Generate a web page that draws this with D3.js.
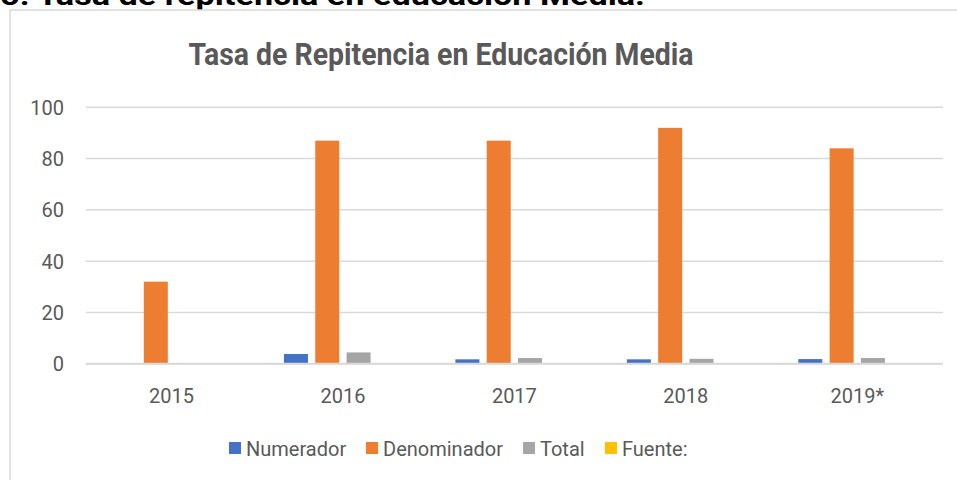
<!DOCTYPE html>
<html>
<head>
<meta charset="utf-8">
<script src="https://cdn.jsdelivr.net/npm/d3@7"></script>
<style>
  body { margin: 0; background: #fff; }
  text { font-family: Roboto, "Open Sans", sans-serif; }
</style>
</head>
<body>
<div class="canvas"></div>
<script>
// data
var years = ["2015", "2016", "2017", "2018", "2019*"];
var numerador = [0, 3.8, 1.7, 1.7, 1.8];
var denominador = [32, 87, 87, 92, 84];
var total = [0, 4.4, 2.2, 1.9, 2.2];
var fuente = [0, 0, 0, 0, 0];
var seriesNames = ["Numerador", "Denominador", "Total", "Fuente:"];
var seriesColors = ["#4472c4", "#ed7d31", "#a5a5a5", "#ffc000"];
var yTicks = [0, 20, 40, 60, 80, 100];

var seriesValues = [numerador, denominador, total, fuente];

var svg = d3.select(".canvas").append("svg").attr("width", 957).attr("height", 480);

// heading of the document, cut off at the top like in the screenshot
svg.append("text")
    .attr("x", 0)
    .attr("y", 5)
    .text("5. Tasa de repitencia en educación Media.")
    .attr("font-weight", "bold")
    .attr("font-size", "27px")
    .attr("fill", "#000")
    .attr("textLength", 645)
    .attr("lengthAdjust", "spacingAndGlyphs");

// chart box
svg.append("rect")
    .attr("x", 10)
    .attr("y", 10)
    .attr("width", 1000)
    .attr("height", 500)
    .attr("fill", "#fff")
    .attr("stroke", "#d9d9d9")
    .attr("stroke-width", 1.5);

svg.append("text")
    .attr("x", 441)
    .attr("y", 65)
    .attr("text-anchor", "middle")
    .text("Tasa de Repitencia en Educación Media")
    .attr("font-weight", "bold")
    .attr("font-size", "32px")
    .attr("fill", "#595959")
    .attr("textLength", 505)
    .attr("lengthAdjust", "spacingAndGlyphs");

var plot = { left: 85.75, right: 943, top: 107.3, bottom: 363.7 };

var x0 = d3.scaleBand().domain(years).range([plot.left, plot.right]).padding(0);
var x1 = d3.scaleBand().domain(seriesNames)
    .range([x0.bandwidth() * 0.156, x0.bandwidth() * 0.844])
    .paddingInner(0.233).paddingOuter(0);
var y = d3.scaleLinear().domain([0, 100]).range([plot.bottom, plot.top]);

// gridlines
svg.append("g")
    .selectAll("line")
    .data(yTicks)
    .join("line")
    .attr("x1", plot.left)
    .attr("x2", plot.right)
    .attr("y1", d => y(d))
    .attr("y2", d => y(d))
    .attr("stroke", "#d9d9d9")
    .attr("stroke-width", 1.5);

// y labels
var yAxis = svg.append("g")
    .attr("transform", "translate(" + 64 + ",0)")
    .call(d3.axisLeft(y).tickValues(yTicks).tickSize(0).tickPadding(0));
yAxis.select(".domain").remove();
yAxis.selectAll("text")
    .attr("font-size", "20px")
    .attr("fill", "#595959")
    .attr("dy", "0.35em");

// bars
var groups = svg.append("g")
    .selectAll("g")
    .data(years)
    .join("g")
    .attr("transform", d => "translate(" + x0(d) + ",0)");

groups.selectAll("rect")
    .data((d, i) => seriesNames.map((s, k) => ({ s: s, v: seriesValues[k][i], c: seriesColors[k] })))
    .join("rect")
    .attr("x", d => x1(d.s))
    .attr("width", x1.bandwidth())
    .attr("y", d => y(d.v))
    .attr("height", d => y(0) - y(d.v))
    .attr("fill", d => d.c);

// baseline
svg.append("line")
    .attr("x1", plot.left)
    .attr("x2", plot.right)
    .attr("y1", y(0))
    .attr("y2", y(0))
    .attr("stroke", "#d9d9d9")
    .attr("stroke-width", 2);

// x labels
var xAxis = svg.append("g")
    .attr("transform", "translate(0," + 403 + ")")
    .call(d3.axisBottom(x0).tickSize(0).tickPadding(0));
xAxis.select(".domain").remove();
xAxis.selectAll("text")
    .attr("font-size", "20px")
    .attr("fill", "#595959")
    .attr("dy", 0);

// legend
var legendX = [229, 366, 523, 605];
var legend = svg.append("g")
    .selectAll("g")
    .data(seriesNames)
    .join("g")
    .attr("transform", (d, i) => "translate(" + legendX[i] + ",442)");

legend.append("rect")
    .attr("width", 12)
    .attr("height", 12)
    .attr("fill", (d, i) => seriesColors[i]);

legend.append("text")
    .attr("x", 17)
    .attr("y", 14)
    .text(d => d)
    .attr("font-size", "20px")
    .attr("fill", "#595959");
</script>
</body>
</html>
